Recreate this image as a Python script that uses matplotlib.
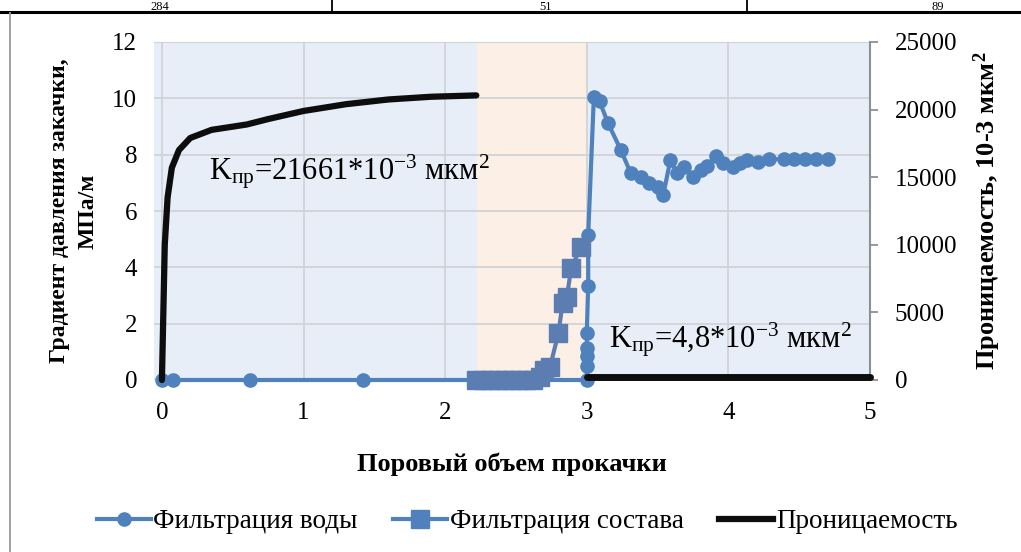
import matplotlib.pyplot as plt
from matplotlib.lines import Line2D

plt.rcParams['font.family'] = ['Liberation Serif', 'DejaVu Serif']
plt.rcParams['mathtext.fontset'] = 'custom'
plt.rcParams['mathtext.rm'] = 'Liberation Serif'
plt.rcParams['mathtext.it'] = 'Liberation Serif:italic'
plt.rcParams['mathtext.bf'] = 'Liberation Serif:bold'

# фильтрация воды (градиент давления, МПа/м)
water_x = [0, 0.08, 0.62, 1.42, 2.22, 3.0, 3.0, 3.0, 3.0, 3.0, 3.01, 3.01, 3.05,
           3.09, 3.15, 3.24, 3.31, 3.38, 3.44, 3.50, 3.54, 3.59, 3.64, 3.69, 3.75,
           3.81, 3.85, 3.91, 3.96, 4.03, 4.08, 4.13, 4.21, 4.29, 4.39, 4.46, 4.54,
           4.62, 4.70]
water_y = [0, 0, 0, 0, 0, 0, 0.5, 0.85, 1.15, 1.67, 3.35, 5.15, 10.05,
           9.9, 9.12, 8.17, 7.35, 7.2, 7.0, 6.85, 6.57, 7.8, 7.35, 7.56, 7.2,
           7.45, 7.6, 7.95, 7.7, 7.56, 7.7, 7.8, 7.74, 7.84, 7.84, 7.84, 7.84,
           7.84, 7.84]

# фильтрация состава
comp_x = [2.22, 2.27, 2.32, 2.37, 2.42, 2.47, 2.52, 2.57, 2.62, 2.67, 2.70, 2.74,
          2.80, 2.83, 2.86, 2.89, 2.96]
comp_y = [0, 0, 0, 0, 0, 0, 0, 0, 0, 0.1, 0.35, 0.45,
          1.67, 2.75, 2.95, 3.98, 4.72]

# проницаемость, 10-3 мкм2
perm1_x = [0, 0.01, 0.02, 0.04, 0.07, 0.12, 0.2, 0.35, 0.6, 0.75, 1.0, 1.3, 1.6, 1.9, 2.22]
perm1_y = [0, 5000, 10000, 13500, 15700, 17000, 17900, 18500, 18900, 19300, 19900,
           20400, 20750, 20950, 21050]
perm2_x = [3.0, 5.0]
perm2_y = [200, 200]

x_ticks = [0, 1, 2, 3, 4, 5]
left_ticks = [0, 2, 4, 6, 8, 10, 12]
right_ticks = [0, 5000, 10000, 15000, 20000, 25000]

blue = '#4F81BD'
fig = plt.figure(figsize=(10.21, 5.52), dpi=100)
ax = fig.add_axes([154 / 1021, (552 - 380) / 552, 716 / 1021, 338 / 552])
ax.set_facecolor('#E7EEF7')
ax.axvspan(2.225, 3.008, color='#FCEFE5', zorder=0.2, lw=0)
ax.set_xlim(-0.056, 5.0)
ax.set_ylim(0, 12)
ax.set_xticks(x_ticks)
ax.set_yticks(left_ticks)
ax.set_axisbelow(True)
ax.grid(True, color='#D0D3D8', lw=1.3)
ax.tick_params(axis='both', length=0, labelsize=18)
ax.tick_params(axis='y', pad=12)
ax.tick_params(axis='x', pad=16)
for s in ['left', 'bottom']:
    ax.spines[s].set_visible(False)
ax.spines['top'].set_color('#D0D3D8')
ax.spines['right'].set_visible(False)

ax.plot(water_x, water_y, color=blue, lw=3, marker='o', ms=9.5, clip_on=False, zorder=3)
ax.plot(comp_x, comp_y, color='#5B7DB1', lw=3, marker='s', ms=13, clip_on=False, zorder=3)

ax2 = ax.twinx()
ax2.set_ylim(0, 25000)
ax2.set_yticks(right_ticks)
ax2.tick_params(axis='y', length=6, width=1.3, color='#8C9097', labelsize=18, pad=12)
for s in ['left', 'bottom', 'top']:
    ax2.spines[s].set_visible(False)
ax2.spines['right'].set_color('#8C9097')
ax2.spines['right'].set_linewidth(1.5)
ax2.plot(perm1_x, perm1_y, color='#0D0D0D', lw=4.5, solid_capstyle='round', clip_on=False, zorder=4)
ax2.plot(perm2_x, perm2_y, color='#0D0D0D', lw=5, solid_capstyle='round', clip_on=False, zorder=4)

ax.text(0.33, 7.4, r'K$_{\mathrm{пр}}$=21661*10$^{-3}$ мкм$^{2}$', fontsize=22, va='center', zorder=6)
ax.text(3.16, 1.42, r'K$_{\mathrm{пр}}$=4,8*10$^{-3}$ мкм$^{2}$', fontsize=22, va='center', zorder=6)

ax.set_xlabel('Поровый объем прокачки', fontsize=19, fontweight='bold', labelpad=20)
ax.set_ylabel('Градиент давления закачки,\nМПа/м', fontsize=17, fontweight='bold',
              labelpad=10, linespacing=1.45)
ax2.set_ylabel(r'Проницаемость, 10-3 мкм$^{\mathbf{2}}$', fontsize=19, fontweight='bold', labelpad=10)

handles = [Line2D([], [], color=blue, lw=3, marker='o', ms=9.5),
           Line2D([], [], color=blue, lw=3, marker='s', ms=13),
           Line2D([], [], color='#0D0D0D', lw=4.5)]
fig.legend(handles, ['Фильтрация воды', 'Фильтрация состава', 'Проницаемость'],
           loc='center', bbox_to_anchor=(527 / 1021, 1 - 522 / 552), ncol=3, frameon=False,
           fontsize=19.5, handlelength=2.0, handletextpad=0.1, columnspacing=1.3)

# фрагмент таблицы сверху
fig.add_artist(Line2D([0, 1], [1 - 12 / 552, 1 - 12 / 552], color='black', lw=2.2))
for xp in [332, 747]:
    fig.add_artist(Line2D([xp / 1021, xp / 1021], [1 - 12 / 552, 1], color='black', lw=1.3))
fig.add_artist(Line2D([10 / 1021, 10 / 1021], [0, 1 - 13 / 552], color='#9A9A9A', lw=1.3))
for xp, t in [(160, '284'), (545, '51'), (938, '89')]:
    fig.text(xp / 1021, 1 - 10 / 552, t, fontsize=9, ha='center', va='baseline')

fig.savefig('out.png', dpi=100)
